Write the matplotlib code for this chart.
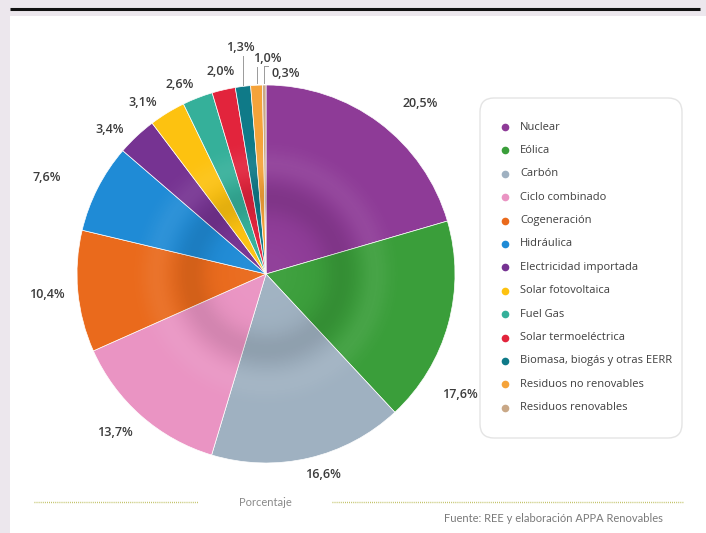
import numpy as np
import matplotlib
matplotlib.use("Agg")
import matplotlib.pyplot as plt
from matplotlib.patches import Circle, FancyBboxPatch, Rectangle

# Generation mix shares (%)
categories = ["Nuclear", "Eólica", "Carbón", "Ciclo combinado", "Cogeneración",
              "Hidráulica", "Electricidad importada", "Solar fotovoltaica",
              "Fuel Gas", "Solar termoeléctrica", "Biomasa, biogás y otras EERR",
              "Residuos no renovables", "Residuos renovables"]
values = [20.5, 17.6, 16.6, 13.7, 10.4, 7.6, 3.4, 3.1, 2.6, 2.0, 1.3, 1.0, 0.3]
value_labels = ["20,5%", "17,6%", "16,6%", "13,7%", "10,4%", "7,6%", "3,4%",
                "3,1%", "2,6%", "2,0%", "1,3%", "1,0%", "0,3%"]

colors = ["#8e3b97", "#3a9e3a", "#9fb1c1", "#ea94c3", "#ea6a1c", "#1f8bd6",
          "#763392", "#fdc210", "#35b09a", "#e2243c", "#0f7a88", "#f5a33a",
          "#c9a887"]

# label anchor points in pie units (center = 0,0, radius = 1)
label_xy = [(0.815, 0.90), (1.026, -0.635), (0.30, -1.06), (-0.80, -0.836),
            (-1.159, -0.106), (-1.159, 0.508), (-0.825, 0.762), (-0.651, 0.905),
            (-0.455, 1.005), (-0.238, 1.069), (-0.138, 1.20), (0.005, 1.138),
            (0.106, 1.063)]

W, H = 706, 533
fig = plt.figure(figsize=(W / 100, H / 100), dpi=100)
fig.patch.set_facecolor("#ece7ed")

# page frame
bg = fig.add_axes([0, 0, 1, 1])
bg.set_xlim(0, W)
bg.set_ylim(H, 0)
bg.axis("off")
bg.add_patch(Rectangle((12, 18), W, H, facecolor="#dcd7dd", edgecolor="none"))
bg.add_patch(Rectangle((10, 16), W, H, facecolor="white", edgecolor="none"))
bg.plot([10, 700], [9, 9], color="#111111", lw=2.2, solid_capstyle="butt")

# footer
dots = dict(color="#b7b84e", lw=1.0, linestyle=(0, (0.6, 0.9)))
bg.plot([34, 198], [502, 502], **dots)
bg.plot([332, 683], [502, 502], **dots)
bg.text(265, 503, "Porcentaje", ha="center", va="center", fontsize=8,
        color="#8a8a8a", family="Lato")
bg.text(663, 518, "Fuente: REE y elaboración APPA Renovables", ha="right",
        va="center", fontsize=8, color="#7a7a7a", family="Lato")

# pie
cx, cy, R = 266, 274, 189
ax = fig.add_axes([(cx - R) / W, 1 - (cy + R) / H, 2 * R / W, 2 * R / H])
wedges, _ = ax.pie(values, colors=colors, startangle=90, counterclock=False,
                   radius=1, wedgeprops=dict(edgecolor="white", linewidth=0.5))

# dish-like radial shading
n = 400
g = np.linspace(-1, 1, n)
X, Y = np.meshgrid(g, g)
r = np.hypot(X, Y)
dark = 0.10 * np.exp(-((r - 0.40) / 0.10) ** 2)
light = 0.07 * np.exp(-((r - 0.58) / 0.08) ** 2) + 0.04 * np.exp(-(r / 0.22) ** 2)
rgba = np.zeros((n, n, 4))
shade = light / (light + dark + 1e-9)
rgba[..., 0] = shade
rgba[..., 1] = shade
rgba[..., 2] = shade
rgba[..., 3] = np.clip(dark + light, 0, 1)
im = ax.imshow(rgba, extent=[-1, 1, -1, 1], origin="lower", zorder=3,
               interpolation="bilinear")
im.set_clip_path(Circle((0, 0), 1, transform=ax.transData))
ax.set_xlim(-1, 1)
ax.set_ylim(-1, 1)
ax.set_aspect("auto")
ax.axis("off")

# value labels
for i, lab in enumerate(value_labels):
    lx, ly = label_xy[i]
    ax.text(lx, ly, lab, ha="center", va="center", fontsize=9,
            fontweight="semibold", color="#3c3c3c", family="Open Sans",
            clip_on=False)

# leader lines for the thinnest slices
for i in (10, 11, 12):
    w = wedges[i]
    mid = np.deg2rad((w.theta1 + w.theta2) / 2)
    x0, y0 = np.cos(mid), np.sin(mid)
    top = label_xy[i][1] - 0.045 if i != 12 else label_xy[i][1] + 0.04
    ax.plot([x0, x0], [y0 + 0.01, top], color="#9a9a9a", lw=0.7,
            clip_on=False)
    if i == 12:
        ax.plot([x0, x0 + 0.02], [top, top], color="#9a9a9a", lw=0.7,
                clip_on=False)

# legend panel
bg.add_patch(FancyBboxPatch((480, 98), 202, 340,
                            boxstyle="round,pad=0,rounding_size=14",
                            facecolor="white", edgecolor="#e4e4e4", lw=1.0))
y0, dy = 127, 23.4
for i, (name, c) in enumerate(zip(categories, colors)):
    yy = y0 + i * dy
    bg.plot(505, yy, marker="o", ms=5.5, color=c, mec="none")
    bg.text(520, yy, name, ha="left", va="center", fontsize=8,
            color="#3f3f3f", family="Open Sans")

fig.savefig("out.png", dpi=100, facecolor=fig.get_facecolor())
